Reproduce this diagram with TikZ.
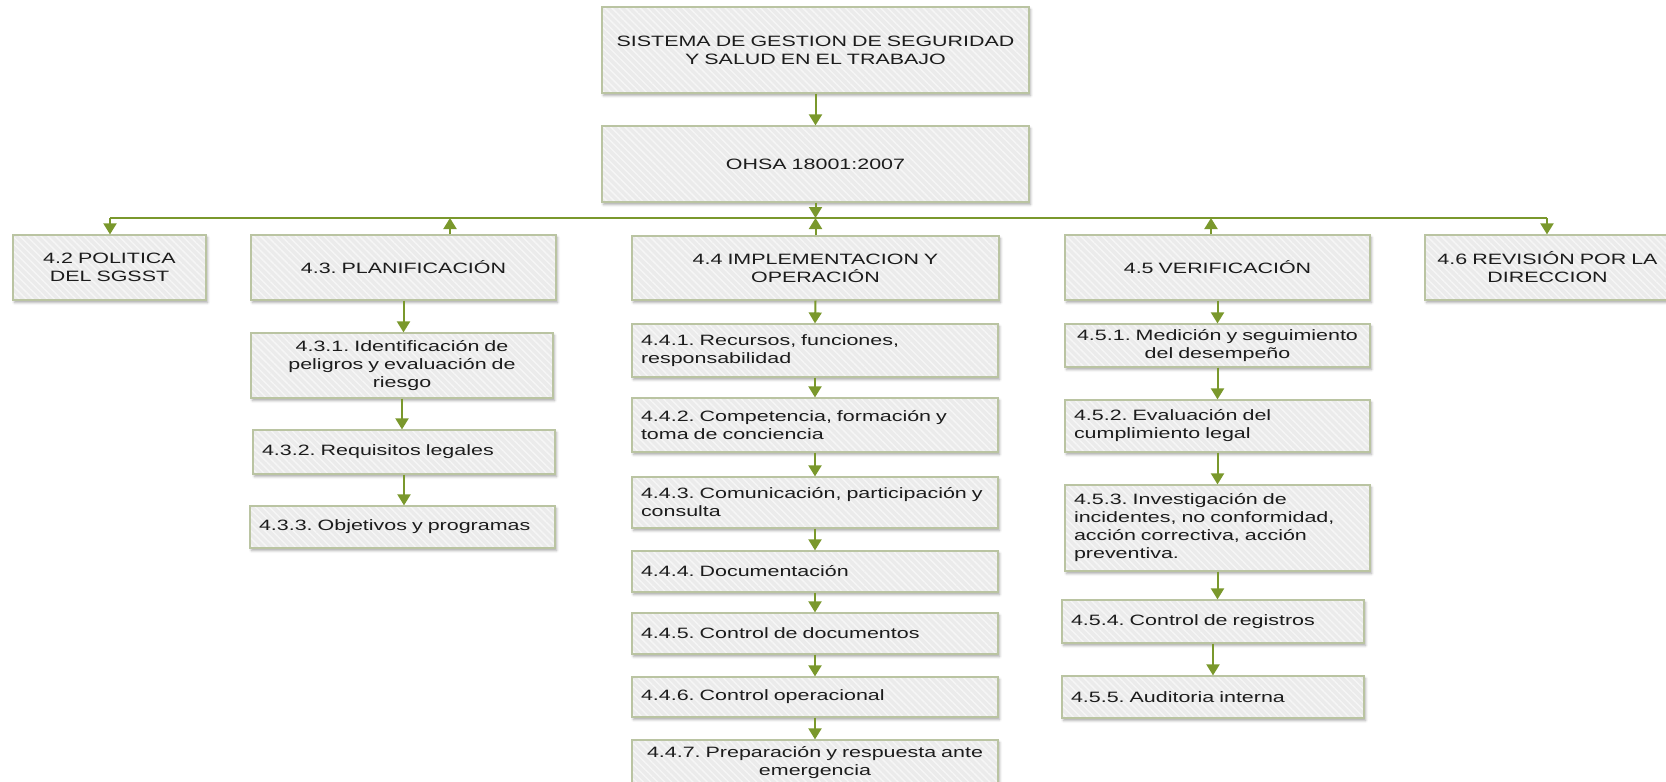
\documentclass[tikz,border=0pt]{standalone}
\usepackage{fontspec}
\setmainfont{Liberation Sans}[FakeStretch=1.43]
\usetikzlibrary{arrows.meta,shadows.blur,patterns.meta}
\frenchspacing

\definecolor{stem}{RGB}{122,152,44}
\definecolor{edge}{RGB}{186,196,162}
\definecolor{boxfill}{RGB}{235,235,235}
\definecolor{ink}{RGB}{28,28,28}

\tikzset{
  card/.style={
    blur shadow={shadow xshift=1.5pt, shadow yshift=-2.5pt, shadow blur radius=2.5pt, shadow opacity=35},
    preaction={fill=boxfill},
    pattern={Lines[angle=-45,distance=5pt,line width=1.4pt]}, pattern color=white!55!boxfill,
    draw=edge, line width=1.2pt,
    inner xsep=9pt, inner ysep=0pt, text=ink, font=\fontsize{15}{18}\selectfont},
  feed/.style={draw=stem, line width=2pt, -{Triangle[width=13pt,length=11pt,fill=stem]}},
  bus/.style={draw=stem, line width=1.6pt},
}

% \card{name}{x1}{y1}{x2}{y2}{alignment}{text}
\newcommand\card[7]{%
  \pgfmathsetmacro\cardw{#4-#2}%
  \pgfmathsetmacro\cardh{#5-#3}%
  \pgfmathsetmacro\cardt{#4-#2-18}%
  \node[card, minimum width=\cardw pt, minimum height=\cardh pt,
        text width=\cardt pt, align=#6] (#1) at ({(#2+#4)/2},{(#3+#5)/2}) {#7};%
}

\begin{document}
\begin{tikzpicture}[x=1pt,y=-1pt]
\useasboundingbox (0,0) rectangle (1666,782);

% top of the tree
\card{top}{602}{7}{1029}{93}{center}{SISTEMA DE GESTION DE SEGURIDAD\\Y SALUD EN EL TRABAJO}
\card{ohsa}{602}{126}{1029}{202}{center}{OHSA 18001:2007}

% main clauses
\card{p42}{13}{235}{206}{300}{center}{4.2 POLITICA\\DEL SGSST}
\card{p43}{251}{235}{556}{300}{center}{4.3. PLANIFICACIÓN}
\card{p44}{632}{236}{999}{300}{center}{4.4 IMPLEMENTACION Y\\OPERACIÓN}
\card{p45}{1065}{235}{1370}{300}{center}{4.5 VERIFICACIÓN}
\card{p46}{1425}{235}{1670}{300}{center}{4.6 REVISIÓN POR LA\\DIRECCION}

% planning
\card{s431}{251}{333}{553}{398}{center}{4.3.1. Identificación de\\peligros y evaluación de\\riesgo}
\card{s432}{253}{430}{555}{474}{left}{4.3.2. Requisitos legales}
\card{s433}{250}{506}{555}{548}{left}{4.3.3. Objetivos y programas}

% implementation and operation
\card{s441}{632}{324}{998}{377}{left}{4.4.1. Recursos, funciones,\\responsabilidad}
\card{s442}{632}{398}{998}{452}{left}{4.4.2. Competencia, formación y\\toma de conciencia}
\card{s443}{632}{477}{998}{528}{left}{4.4.3. Comunicación, participación y\\consulta}
\card{s444}{632}{551}{998}{592}{left}{4.4.4. Documentación}
\card{s445}{632}{613}{998}{654}{left}{4.4.5. Control de documentos}
\card{s446}{632}{677}{998}{717}{left}{4.4.6. Control operacional}
\card{s447}{632}{740}{998}{786}{center}{4.4.7. Preparación y respuesta ante\\emergencia}

% checking
\card{s451}{1065}{324}{1370}{367}{center}{4.5.1. Medición y seguimiento\\del desempeño}
\card{s452}{1065}{400}{1370}{452}{left}{4.5.2. Evaluación del\\cumplimiento legal}
\card{s453}{1065}{485}{1370}{571}{left}{4.5.3. Investigación de\\incidentes, no conformidad,\\acción correctiva, acción\\preventiva.}
\card{s454}{1062}{600}{1364}{643}{left}{4.5.4. Control de registros}
\card{s455}{1062}{676}{1364}{718}{left}{4.5.5. Auditoria interna}

% distribution bar
\coordinate (j42) at (110,218);
\coordinate (j43) at (450,218);
\coordinate (j44) at (816,218);
\coordinate (j45) at (1211,218);
\coordinate (j46) at (1547,218);
\draw[bus] (j42) -- (j46);

\draw[feed] (top.south) -- (ohsa.north);
\draw[feed] (ohsa.south) -- (ohsa.south |- j44);
\draw[feed] (p44.north) -- (p44.north |- j44);
\draw[feed] (j42) -- (j42 |- p42.north);
\draw[feed] (p43.north -| j43) -- (j43);
\draw[feed] (p45.north -| j45) -- (j45);
\draw[feed] (j46) -- (j46 |- p46.north);

% chains inside each clause
\draw[feed] (p43.south) -- (p43.south |- s431.north);
\draw[feed] (s431.south) -- (s431.south |- s432.north);
\draw[feed] (s432.south) -- (s432.south |- s433.north);

\draw[feed] (p44.south) -- (s441.north);
\draw[feed] (s441.south) -- (s442.north);
\draw[feed] (s442.south) -- (s443.north);
\draw[feed] (s443.south) -- (s444.north);
\draw[feed] (s444.south) -- (s445.north);
\draw[feed] (s445.south) -- (s446.north);
\draw[feed] (s446.south) -- (s447.north);

\draw[feed] (p45.south) -- (p45.south |- s451.north);
\draw[feed] (s451.south) -- (s451.south |- s452.north);
\draw[feed] (s452.south) -- (s452.south |- s453.north);
\draw[feed] (s453.south) -- (s453.south |- s454.north);
\draw[feed] (s454.south) -- (s454.south |- s455.north);
\end{tikzpicture}
\end{document}
